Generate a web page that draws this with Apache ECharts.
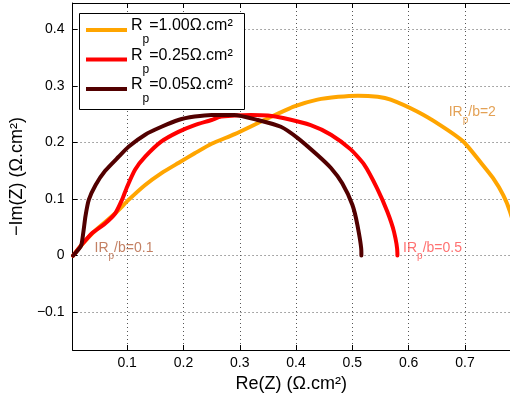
<!DOCTYPE html>
<html><head><meta charset="utf-8">
<script src="https://cdn.jsdelivr.net/npm/echarts@6/dist/echarts.min.js"></script>
<style>html,body{margin:0;padding:0;background:#fff}#c{width:510px;height:400px}</style>
</head><body><div id="c"></div>
<script>
// ---- data ----
const rpValues = ['1.00', '0.25', '0.05'];
const seriesNames = ['Rp=1.00', 'Rp=0.25', 'Rp=0.05'];
const rp100 = [[0.004,0],[0.020,0.020],[0.044,0.045],[0.079,0.075],[0.103,0.099],[0.132,0.125],[0.161,0.146],[0.191,0.164],[0.22,0.181],[0.25,0.198],[0.291,0.215],[0.35,0.243],[0.397,0.264],[0.438,0.276],[0.475,0.281],[0.51,0.283],[0.545,0.281],[0.568,0.276],[0.615,0.255],[0.656,0.231],[0.697,0.202],[0.727,0.166],[0.75,0.137],[0.768,0.107],[0.78,0.078],[0.79,0.04],[0.795,0]];
const rp025 = [[0.004,0],[0.020,0.020],[0.038,0.040],[0.061,0.057],[0.079,0.075],[0.091,0.099],[0.10,0.122],[0.114,0.152],[0.132,0.175],[0.161,0.202],[0.191,0.219],[0.22,0.231],[0.25,0.240],[0.267,0.246],[0.32,0.249],[0.35,0.248],[0.379,0.243],[0.426,0.231],[0.462,0.214],[0.497,0.188],[0.521,0.161],[0.544,0.119],[0.562,0.078],[0.574,0.042],[0.58,0.004],[0.58,0]];
const rp005 = [[0.004,0],[0.018,0.017],[0.022,0.04],[0.026,0.07],[0.032,0.099],[0.044,0.125],[0.061,0.150],[0.085,0.175],[0.103,0.193],[0.132,0.214],[0.161,0.228],[0.191,0.240],[0.22,0.246],[0.25,0.249],[0.29,0.249],[0.332,0.240],[0.373,0.228],[0.403,0.208],[0.438,0.178],[0.462,0.155],[0.482,0.128],[0.50,0.09],[0.509,0.054],[0.516,0.007],[0.516,0]];
const xTicks = [0.1,0.2,0.3,0.4,0.5,0.6,0.7];
const yTicks = [-0.1,0,0.1,0.2,0.3,0.4];
const xRange = [0.003, 0.78];
const yRange = [-0.167, 0.447];
const annoText = ['2', '0.5', '0.1'];
const annoPos = [[0.672,0.256],[0.591,0.016],[0.043,0.016]];

// ---- styles ----
const FONT = '"Liberation Sans", Arial, Helvetica, sans-serif';
const lineColors = ['#FFA500', '#FF0000', '#520000'];
const annoColors = ['#DC8A2A', '#FF4D4D', '#B4603C'];
const seriesData = [rp100, rp025, rp005];

const fmtTick = v => v === 0 ? '0' : (v < 0 ? '\u2212' : '') + Math.abs(v).toFixed(1);

// text measuring helper (layout only)
const mctx = document.createElement('canvas').getContext('2d');
const textW = (t, size) => { mctx.font = size + 'px ' + FONT; return mctx.measureText(t).width; };

const chart = echarts.init(document.getElementById('c'));

const lineSeries = seriesNames.map((n, i) => ({
  type: 'line', name: n, data: seriesData[i], xAxisIndex: 0, yAxisIndex: 0,
  symbol: 'none', showSymbol: false, smooth: 0.2, clip: true,
  lineStyle: { width: 4, color: lineColors[i], join: 'round', cap: 'round' },
  itemStyle: { color: lineColors[i] }, animation: false, z: 2 + i
}));

const annoSeries = annoText.map((t, i) => ({
  type: 'scatter', name: 'anno' + i, data: [annoPos[i]], symbolSize: 1,
  itemStyle: { color: 'rgba(0,0,0,0)' }, silent: true, animation: false, z: 10,
  label: {
    show: true, position: [0, 0], align: 'left', verticalAlign: 'top', offset: [0, -5],
    formatter: '{a|IR}{s|p}{a|/b=' + t + '}',
    rich: {
      a: { fontFamily: FONT, fontSize: 14, lineHeight: 14, color: annoColors[i], verticalAlign: 'top' },
      s: { fontFamily: FONT, fontSize: 10, lineHeight: 10, color: annoColors[i], verticalAlign: 'top', padding: [10, 0, 0, 0] }
    }
  }
}));

// legend layout
const LEG = { left: 86, firstY: 30, step: 29.5, iconW: 41, iconH: 4, textX: 131, fs: 16, subFs: 12, rise: 4, drop: 13 };
const legendTexts = [];
rpValues.forEach((v, i) => {
  const yc = LEG.firstY + LEG.step * i;
  const wR = textW('R', LEG.fs);
  const wp = textW('p', LEG.subFs);
  const base = { fontFamily: FONT, fill: '#000', verticalAlign: 'middle', align: 'left' };
  legendTexts.push(
    { type: 'text', z: 30, silent: true, style: { ...base, text: 'R', x: LEG.textX, y: yc - LEG.rise, fontSize: LEG.fs } },
    { type: 'text', z: 30, silent: true, style: { ...base, text: 'p', x: LEG.textX + wR, y: yc + LEG.drop - 3, fontSize: LEG.subFs } },
    { type: 'text', z: 30, silent: true, style: { ...base, text: '=' + v + '\u03A9.cm\u00B2', x: LEG.textX + wR + wp, y: yc - LEG.rise, fontSize: LEG.fs } }
  );
});

const axisCommon = {
  axisLine: { show: true, onZero: false, lineStyle: { color: '#000', width: 1 } },
  axisTick: { show: true, inside: true, length: 5, lineStyle: { color: '#000' } }
};

chart.setOption({
  animation: false,
  backgroundColor: '#fff',
  textStyle: { fontFamily: FONT },
  grid: { left: 70, right: 0, top: 3, bottom: 50, containLabel: false },
  xAxis: [{
    type: 'value', position: 'bottom', min: xRange[0], max: xRange[1],
    ...axisCommon,
    axisTick: { ...axisCommon.axisTick, customValues: xTicks },
    axisLabel: { customValues: xTicks, formatter: fmtTick, fontSize: 14, color: '#000', margin: 6, fontFamily: FONT },
    splitLine: { show: true, lineStyle: { color: '#555', width: 1, type: [1, 3] } },
    name: 'Re(Z) (\u03A9.cm\u00B2)', nameLocation: 'middle', nameGap: 22,
    nameTextStyle: { fontSize: 18, color: '#000', fontFamily: FONT }
  }, {
    type: 'value', position: 'top', min: xRange[0], max: xRange[1],
    ...axisCommon,
    axisTick: { ...axisCommon.axisTick, customValues: xTicks },
    axisLabel: { show: false }, splitLine: { show: false }
  }],
  yAxis: [{
    type: 'value', position: 'left', min: yRange[0], max: yRange[1],
    ...axisCommon,
    axisTick: { ...axisCommon.axisTick, customValues: yTicks },
    axisLabel: { customValues: yTicks, formatter: fmtTick, fontSize: 14, color: '#000', margin: 8, fontFamily: FONT },
    splitLine: { show: true, lineStyle: { color: '#555', width: 1, type: [1, 3] } },
    name: '\u2212Im(Z) (\u03A9.cm\u00B2)', nameLocation: 'middle', nameGap: 36, nameRotate: 90,
    nameTextStyle: { fontSize: 18, color: '#000', fontFamily: FONT }
  }],
  legend: {
    data: seriesNames, orient: 'vertical', left: LEG.left, top: LEG.firstY - LEG.iconH / 2, padding: 0,
    itemGap: LEG.step - LEG.iconH,
    itemWidth: LEG.iconW, itemHeight: LEG.iconH, icon: 'rect', selectedMode: false, z: 20,
    formatter: () => '',
    textStyle: { fontSize: 1, lineHeight: 1 }
  },
  graphic: [{
    type: 'rect', z: 15, silent: true,
    shape: { x: 79.5, y: 13.5, width: 165, height: 96 },
    style: { fill: '#fff', stroke: '#000', lineWidth: 1 }
  }, ...legendTexts],
  series: [...lineSeries, ...annoSeries]
});
</script></body></html>
